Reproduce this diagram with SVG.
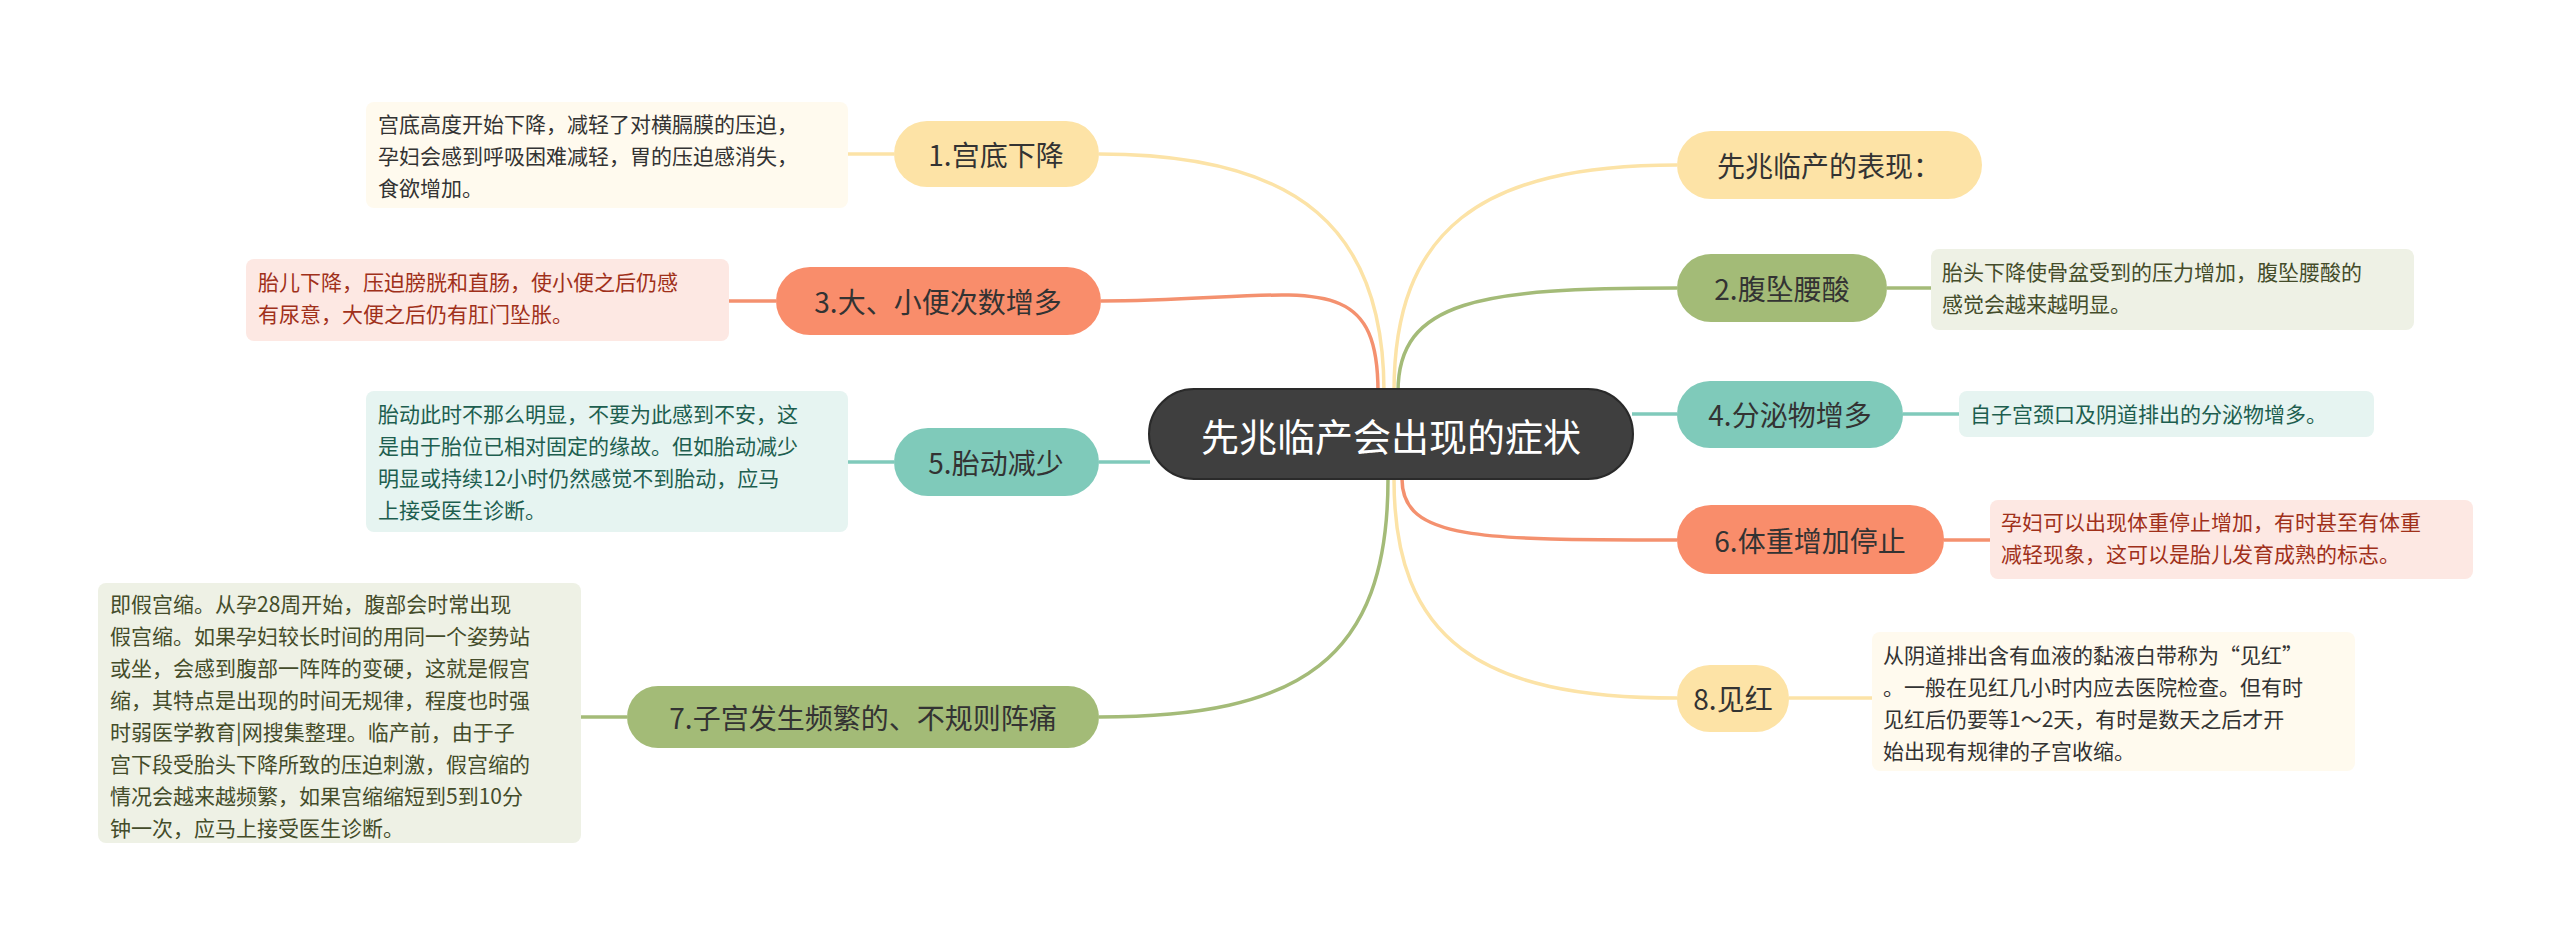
<svg xmlns="http://www.w3.org/2000/svg" width="2560" height="937" viewBox="0 0 2560 937">
<style>
text{font-family:"Noto Sans CJK SC","Noto Sans",sans-serif;}
.t{font-size:28px;fill:#333;text-anchor:middle;dominant-baseline:central}
.d{font-size:21px}
.e{fill:none;stroke-width:3.5}
.y{stroke:#fce3a7}.o{stroke:#f4916f}.g{stroke:#a4bb78}.c{stroke:#80cabb}
</style>
<rect width="2560" height="937" fill="#fff"/>
<g id="connectors">
<path class="e y" d="M1384 392 C1384 230,1300 154,1099 154"/>
<path class="e o" d="M1378 392 C1378 260,1300 301,1101 301"/>
<path class="e c" d="M1150 462 L1099 462"/>
<path class="e g" d="M1388 479 C1388 660,1300 717,1099 717"/>
<path class="e y" d="M1394 392 C1394 230,1480 165,1677 165"/>
<path class="e g" d="M1398 392 C1398 300,1480 288,1677 288"/>
<path class="e c" d="M1632 414 L1677 414"/>
<path class="e o" d="M1402 479 C1402 540,1480 540,1677 540"/>
<path class="e y" d="M1394 479 C1394 640,1480 698,1677 698"/>
<path class="e y" d="M848 154 L894 154"/>
<path class="e o" d="M729 301 L776 301"/>
<path class="e c" d="M848 462 L894 462"/>
<path class="e g" d="M581 717 L627 717"/>
<path class="e g" d="M1887 288 L1931 288"/>
<path class="e c" d="M1903 414 L1959 414"/>
<path class="e o" d="M1944 540 L1990 540"/>
<path class="e y" d="M1789 698 L1872 698"/>
</g>
<g id="center"><rect x="1149" y="389" width="484" height="90" rx="45" fill="#3f3f3f" stroke="#2a2a2a" stroke-width="2"/><text class="t" x="1391" y="434" style="font-size:38px;fill:#fff">先兆临产会出现的症状</text></g>
<g id="n1"><rect x="894" y="121" width="205" height="66" rx="33" fill="#fde3a6"/><text class="t" x="996" y="154">1.宫底下降</text></g>
<g id="d1"><rect x="366" y="102" width="482" height="106" rx="8" fill="#fffaee"/><text class="d" fill="#333" x="378"><tspan x="378" y="132">宫底高度开始下降，减轻了对横膈膜的压迫，</tspan><tspan x="378" y="164">孕妇会感到呼吸困难减轻，胃的压迫感消失，</tspan><tspan x="378" y="196">食欲增加。</tspan></text></g>
<g id="n3"><rect x="776" y="267" width="325" height="68" rx="34" fill="#f98d6b"/><text class="t" x="938" y="301">3.大、小便次数增多</text></g>
<g id="d3"><rect x="246" y="259" width="483" height="82" rx="8" fill="#fde8e3"/><text class="d" fill="#a0301a"><tspan x="258" y="290">胎儿下降，压迫膀胱和直肠，使小便之后仍感</tspan><tspan x="258" y="322">有尿意，大便之后仍有肛门坠胀。</tspan></text></g>
<g id="n5"><rect x="894" y="428" width="205" height="68" rx="34" fill="#7fcaba"/><text class="t" x="996" y="462">5.胎动减少</text></g>
<g id="d5"><rect x="366" y="391" width="482" height="141" rx="8" fill="#e6f4f1"/><text class="d" fill="#1d5e4f"><tspan x="378" y="422">胎动此时不那么明显，不要为此感到不安，这</tspan><tspan x="378" y="454">是由于胎位已相对固定的缘故。但如胎动减少</tspan><tspan x="378" y="486">明显或持续12小时仍然感觉不到胎动，应马</tspan><tspan x="378" y="518">上接受医生诊断。</tspan></text></g>
<g id="n7"><rect x="627" y="686" width="472" height="62" rx="31" fill="#a3bb77"/><text class="t" x="863" y="717">7.子宫发生频繁的、不规则阵痛</text></g>
<g id="d7"><rect x="98" y="583" width="483" height="260" rx="8" fill="#eef1e5"/><text class="d" fill="#444c2a"><tspan x="110" y="612">即假宫缩。从孕28周开始，腹部会时常出现</tspan><tspan x="110" y="644">假宫缩。如果孕妇较长时间的用同一个姿势站</tspan><tspan x="110" y="676">或坐，会感到腹部一阵阵的变硬，这就是假宫</tspan><tspan x="110" y="708">缩，其特点是出现的时间无规律，程度也时强</tspan><tspan x="110" y="740">时弱医学教育|网搜集整理。临产前，由于子</tspan><tspan x="110" y="772">宫下段受胎头下降所致的压迫刺激，假宫缩的</tspan><tspan x="110" y="804">情况会越来越频繁，如果宫缩缩短到5到10分</tspan><tspan x="110" y="836">钟一次，应马上接受医生诊断。</tspan></text></g>
<g id="r0"><rect x="1677" y="131" width="305" height="68" rx="34" fill="#fde3a6"/><text class="t" x="1829" y="165">先兆临产的表现：</text></g>
<g id="n2"><rect x="1677" y="254" width="210" height="68" rx="34" fill="#a3bb77"/><text class="t" x="1782" y="288">2.腹坠腰酸</text></g>
<g id="d2"><rect x="1931" y="249" width="483" height="81" rx="8" fill="#eef1e5"/><text class="d" fill="#444c2a"><tspan x="1942" y="280">胎头下降使骨盆受到的压力增加，腹坠腰酸的</tspan><tspan x="1942" y="312">感觉会越来越明显。</tspan></text></g>
<g id="n4"><rect x="1677" y="381" width="226" height="67" rx="33" fill="#7fcaba"/><text class="t" x="1790" y="414">4.分泌物增多</text></g>
<g id="d4"><rect x="1959" y="391" width="415" height="46" rx="8" fill="#e6f4f1"/><text class="d" fill="#1d5e4f" x="1970" y="422">自子宫颈口及阴道排出的分泌物增多。</text></g>
<g id="n6"><rect x="1677" y="505" width="267" height="69" rx="34" fill="#f98d6b"/><text class="t" x="1810" y="540">6.体重增加停止</text></g>
<g id="d6"><rect x="1990" y="500" width="483" height="79" rx="8" fill="#fde8e3"/><text class="d" fill="#a0301a"><tspan x="2001" y="530">孕妇可以出现体重停止增加，有时甚至有体重</tspan><tspan x="2001" y="562">减轻现象，这可以是胎儿发育成熟的标志。</tspan></text></g>
<g id="n8"><rect x="1677" y="665" width="112" height="67" rx="33" fill="#fde3a6"/><text class="t" x="1733" y="698">8.见红</text></g>
<g id="d8"><rect x="1872" y="632" width="483" height="139" rx="8" fill="#fffaee"/><text class="d" fill="#333"><tspan x="1883" y="663">从阴道排出含有血液的黏液白带称为“见红”</tspan><tspan x="1883" y="695">。一般在见红几小时内应去医院检查。但有时</tspan><tspan x="1883" y="727">见红后仍要等1～2天，有时是数天之后才开</tspan><tspan x="1883" y="759">始出现有规律的子宫收缩。</tspan></text></g>
</svg>
